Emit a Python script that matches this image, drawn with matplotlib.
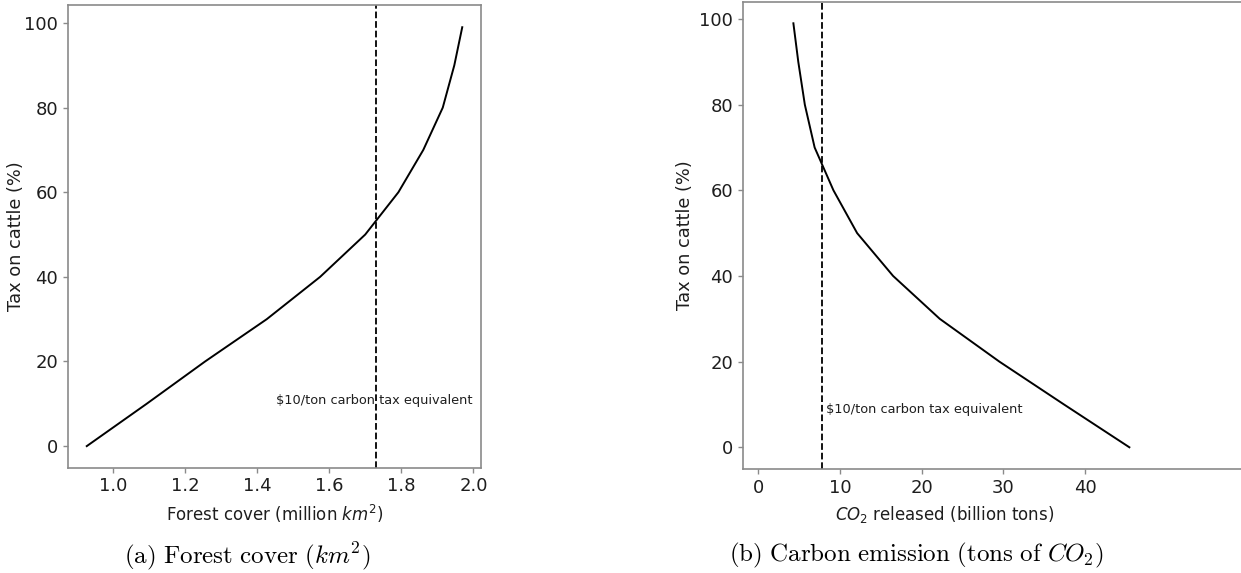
import matplotlib
matplotlib.use("Agg")
import matplotlib.pyplot as plt

# Data
tax = [0, 10, 20, 30, 40, 50, 60, 70, 80, 90, 99]
forest_cover = [0.928, 1.094, 1.256, 1.427, 1.575, 1.700, 1.792, 1.861, 1.915, 1.947, 1.969]
co2_released = [45.4, 37.4, 29.5, 22.2, 16.5, 12.1, 9.2, 6.9, 5.7, 4.9, 4.3]
forest_tax_equiv = 1.73
co2_tax_equiv = 7.8
forest_xticks = [1.0, 1.2, 1.4, 1.6, 1.8, 2.0]
co2_xticks = [0, 10, 20, 30, 40]
yticks = [0, 20, 40, 60, 80, 100]

plt.rcParams['mathtext.fontset'] = 'dejavusans'

W, H = 1241, 573
fig = plt.figure(figsize=(W / 100, H / 100), dpi=100)

def pos(x0, y0, x1, y1):
    return [x0 / W, 1 - y1 / H, (x1 - x0) / W, (y1 - y0) / H]

ax1 = fig.add_axes(pos(68, 5, 481, 467.7))
ax2 = fig.add_axes(pos(742.7, 1.7, 1243, 469))

spine_col = '#8a8a8a'
text_col = '#1e1e1e'
for ax in (ax1, ax2):
    for s in ax.spines.values():
        s.set_color(spine_col)
        s.set_linewidth(1.2)
    ax.tick_params(colors=spine_col, labelcolor=text_col, labelsize=13,
                   length=3.5, width=1)
    ax.set_yticks(yticks)
    ax.set_ylabel('Tax on cattle (%)', fontsize=12.8, color=text_col)

# Left panel
ax1.plot(forest_cover, tax, color='black', lw=1.4)
ax1.axvline(forest_tax_equiv, color='black', ls='--', lw=1.3)
ax1.text(1.452, 10, '$10/ton carbon tax equivalent', fontsize=9.3,
         color=text_col, va='baseline', ha='left')
ax1.set_xticks(forest_xticks)
ax1.set_xticklabels([f'{v:.1f}' for v in forest_xticks])
ax1.set_xlim(0.876, 2.021)
ax1.set_ylim(-5.1, 104.25)
ax1.set_xlabel('Forest cover (million $km^2$)', fontsize=12, color=text_col)
ax1.yaxis.set_label_coords(-0.105, 0.5)
ax1.xaxis.set_label_coords(0.5, -0.075)

# Right panel
ax2.plot(co2_released, tax, color='black', lw=1.4)
ax2.axvline(co2_tax_equiv, color='black', ls='--', lw=1.3)
ax2.text(8.3, 8, '$10/ton carbon tax equivalent', fontsize=9.3,
         color=text_col, va='baseline', ha='left')
ax2.set_xticks(co2_xticks)
ax2.set_xlim(-1.9, 59.3)
ax2.set_ylim(-5.07, 104.04)
ax2.spines['right'].set_visible(False)
ax2.set_xlabel('$CO_2$ released (billion tons)', fontsize=12, color=text_col)
ax2.xaxis.set_label_coords((945 - 742.7) / (1243 - 742.7), -0.075)
ax2.yaxis.set_label_coords(-(742.7 - 694) / (1243 - 742.7), 0.5)

# Captions (LaTeX-like Computer Modern)
cap_kw = dict(fontsize=18, ha='center', va='center', math_fontfamily='cm')
fig.text(247.5 / W, 1 - 556 / H,
         r'$\mathrm{(a)\ Forest\ cover\ (}km^{2}\mathrm{)}$', **cap_kw)
fig.text(915.8 / W, 1 - 555 / H,
         r'$\mathrm{(b)\ Carbon\ emission\ (tons\ of\ }CO_{2}\mathrm{)}$', **cap_kw)

fig.savefig('out.png', dpi=100)
